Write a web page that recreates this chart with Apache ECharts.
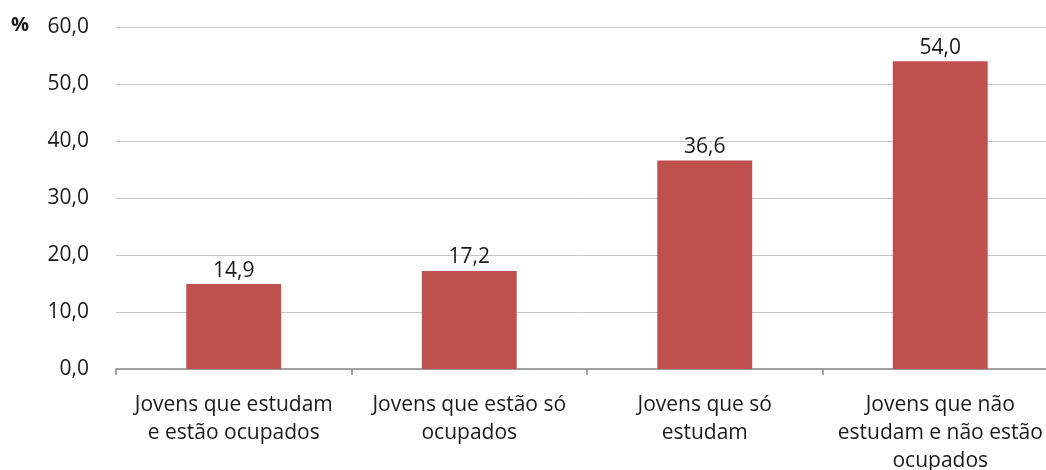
<!DOCTYPE html>
<html><head><meta charset="utf-8">
<script src="https://cdn.jsdelivr.net/npm/echarts@6/dist/echarts.min.js"></script>
<style>html,body{margin:0;padding:0;background:#fff}#c{width:1046px;height:470px}</style>
</head><body><div id="c"></div>
<script>
var categories = ["Jovens que estudam\ne estão ocupados", "Jovens que estão só\nocupados", "Jovens que só\nestudam", "Jovens que não\nestudam e não estão\nocupados"];
var values = [14.9, 17.2, 36.6, 54.0];
var yTicks = [0, 10, 20, 30, 40, 50, 60];
var fmt = function (v) { return Number(v).toFixed(1).replace('.', ','); };
var chart = echarts.init(document.getElementById('c'), null, {renderer: 'canvas'});
var font = '"Open Sans", "Noto Sans", sans-serif';
chart.setOption({
  animation: false,
  textStyle: {fontFamily: font},
  graphic: [{type: 'text', left: 11, top: 15, style: {text: '%', font: 'bold 20px ' + font, fill: '#1a1a1a'}}],
  grid: {left: 116, top: 27, width: 942, height: 342, outerBoundsMode: 'none', containLabel: false},
  xAxis: {
    type: 'category', data: categories,
    axisLine: {lineStyle: {color: '#898989', width: 1.5}},
    axisTick: {show: true, length: 6, lineStyle: {color: '#898989', width: 1.5}},
    axisLabel: {color: '#1a1a1a', fontSize: 21, lineHeight: 28, margin: 22, interval: 0, fontFamily: font}
  },
  yAxis: {
    type: 'value', min: yTicks[0], max: yTicks[yTicks.length - 1], interval: 10,
    axisLine: {show: false}, axisTick: {show: false},
    splitLine: {lineStyle: {color: '#c6c6c6', width: 1}},
    axisLabel: {color: '#1a1a1a', fontSize: 21, margin: 27, formatter: fmt, fontFamily: font}
  },
  series: [{
    type: 'bar', data: values, barWidth: '40.3%',
    itemStyle: {color: '#C0504D'},
    label: {show: true, position: 'top', distance: 3, color: '#1a1a1a', fontSize: 21, formatter: function (p) { return fmt(p.value); }, fontFamily: font}
  }]
});
</script></body></html>
